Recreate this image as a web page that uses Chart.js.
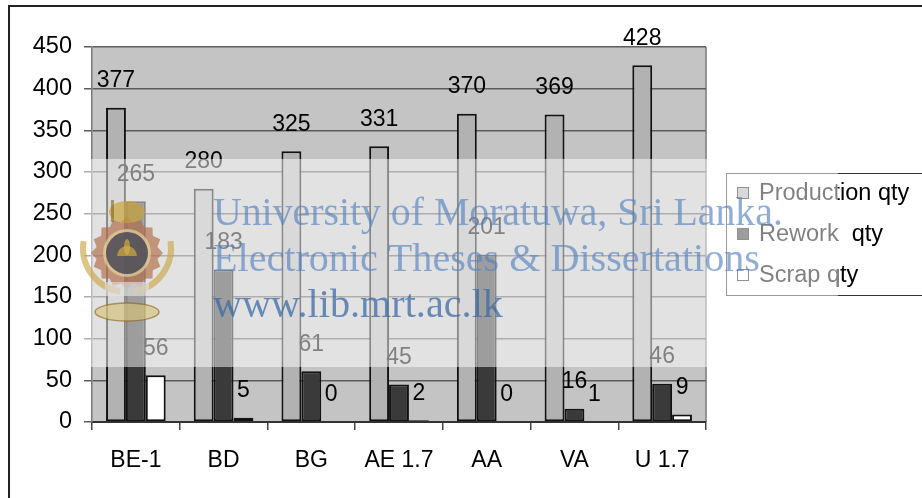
<!DOCTYPE html>
<html>
<head>
<meta charset="utf-8">
<script src="https://cdn.jsdelivr.net/npm/chart.js@4/dist/chart.umd.min.js"></script>
<style>
  html, body { margin: 0; padding: 0; background: #ffffff; }
  #wrap { width: 922px; height: 498px; }
</style>
</head>
<body>
<div id="wrap"><canvas id="c" width="922" height="498"></canvas></div>
<script>
// Quantities per product line
const categories   = ['BE-1', 'BD', 'BG', 'AE 1.7', 'AA', 'VA', 'U 1.7'];
const productionQty = [377, 280, 325, 331, 370, 369, 428];
const reworkQty     = [265, 183, 61, 45, 201, 16, 46];
const scrapQty      = [56, 5, 0, 2, 0, 1, 9];
const seriesNames   = ['Production qty', 'Rework  qty', 'Scrap qty'];
const yMin = 0, yMax = 450, yStep = 50;
const watermarkLines = ['University of Moratuwa, Sri Lanka.', 'Electronic Theses & Dissertations', 'www.lib.mrt.ac.lk'];

const FONT = '"Liberation Sans", Arial, sans-serif';

// Grey plot background, right edge line and outer frame
const backdrop = {
  id: 'backdrop',
  beforeDraw(chart) {
    const { ctx, chartArea: a } = chart;
    ctx.save();
    ctx.fillStyle = '#ffffff';
    ctx.fillRect(0, 0, chart.width, chart.height);
    ctx.strokeStyle = '#222';
    ctx.lineWidth = 2;
    ctx.strokeRect(9, 6, 940, 520);
    ctx.fillStyle = '#c4c4c4';
    ctx.fillRect(a.left, a.top, a.right - a.left, a.bottom - a.top);
    ctx.strokeStyle = '#7a7a7a';
    ctx.lineWidth = 1.5;
    ctx.beginPath();
    ctx.moveTo(a.right, a.top);
    ctx.lineTo(a.right, a.bottom);
    ctx.stroke();
    ctx.restore();
  }
};

// Value labels above each bar
const valueLabels = {
  id: 'valueLabels',
  afterDatasetsDraw(chart) {
    const { ctx } = chart;
    ctx.save();
    ctx.font = '23px ' + FONT;
    ctx.fillStyle = '#000';
    ctx.textAlign = 'center';
    ctx.textBaseline = 'middle';
    chart.data.datasets.forEach((ds, i) => {
      chart.getDatasetMeta(i).data.forEach((bar, j) => {
        ctx.fillText(String(ds.data[j]), bar.x, bar.y - 27);
      });
    });
    ctx.restore();
  }
};

// Boxed legend on the right
const sideLegend = {
  id: 'sideLegend',
  afterDraw(chart) {
    const { ctx } = chart;
    ctx.save();
    ctx.strokeStyle = '#333';
    ctx.lineWidth = 1;
    ctx.strokeRect(726.5, 173.5, 240, 122);
    ctx.font = '23.5px ' + FONT;
    ctx.textBaseline = 'middle';
    ctx.textAlign = 'left';
    chart.data.datasets.forEach((ds, i) => {
      const y = 193 + i * 41;
      ctx.fillStyle = ds.backgroundColor;
      ctx.fillRect(737, y - 6, 12, 12);
      ctx.strokeStyle = '#222';
      ctx.lineWidth = 1;
      ctx.strokeRect(737.5, y - 5.5, 11, 11);
      ctx.fillStyle = '#000';
      ctx.fillText(ds.label, 759, y + 1);
    });
    ctx.restore();
  }
};

// Library watermark: translucent band, emblem and text
const watermark = {
  id: 'watermark',
  afterDraw(chart) {
    const { ctx } = chart;
    ctx.save();
    ctx.fillStyle = 'rgba(255,255,255,0.5)';
    ctx.fillRect(80, 159, 758, 208);

    // emblem
    const cx = 127, cy = 253;
    ctx.globalAlpha = 0.65;
    ctx.strokeStyle = '#c9a646';
    ctx.lineWidth = 6;
    ctx.beginPath();
    ctx.arc(cx, cy - 5, 44, Math.PI * 0.55, Math.PI * 1.05);
    ctx.stroke();
    ctx.beginPath();
    ctx.arc(cx, cy - 5, 44, Math.PI * -0.05, Math.PI * 0.45);
    ctx.stroke();
    ctx.fillStyle = '#b06a45';
    ctx.beginPath();
    for (let k = 0; k < 32; k++) {
      const ang = k * Math.PI / 16;
      const r = k % 2 === 0 ? 36 : 31;
      const px = cx + r * Math.cos(ang), py = cy + r * Math.sin(ang);
      k === 0 ? ctx.moveTo(px, py) : ctx.lineTo(px, py);
    }
    ctx.closePath();
    ctx.fill();
    ctx.fillStyle = '#e8d9a0';
    ctx.beginPath(); ctx.arc(cx, cy, 24, 0, Math.PI * 2); ctx.fill();
    ctx.fillStyle = '#1c2440';
    ctx.beginPath(); ctx.arc(cx, cy, 21, 0, Math.PI * 2); ctx.fill();
    ctx.fillStyle = '#d8b040';
    ctx.beginPath(); ctx.arc(cx, cy + 3, 10, Math.PI, 0); ctx.fill();
    ctx.beginPath(); ctx.ellipse(cx, cy - 6, 3, 8, 0, 0, Math.PI * 2); ctx.fill();
    // crest
    ctx.fillStyle = '#c9a030';
    ctx.beginPath(); ctx.ellipse(cx, 212, 18, 11, 0, 0, Math.PI * 2); ctx.fill();
    ctx.fillStyle = '#8a6a20';
    ctx.fillRect(cx - 16, 200, 3, 22);
    // lower banner
    ctx.fillStyle = '#d9c27a';
    ctx.beginPath(); ctx.ellipse(cx, 312, 32, 9, 0, 0, Math.PI * 2); ctx.fill();
    ctx.strokeStyle = '#8a6a20';
    ctx.lineWidth = 1.5;
    ctx.stroke();
    ctx.fillStyle = '#e0e0e0';
    ctx.fillRect(cx - 22, 282, 44, 14);
    ctx.globalAlpha = 1;

    // text
    ctx.textAlign = 'left';
    ctx.textBaseline = 'alphabetic';
    const widths = [570, 547, 290];
    const baselines = [225, 271, 317];
    const colors = ['rgba(85,130,190,0.65)', 'rgba(85,130,190,0.65)', 'rgba(60,105,165,0.75)'];
    watermarkLines.forEach((t, i) => {
      ctx.font = '36px "Liberation Serif", "Times New Roman", serif';
      const w = ctx.measureText(t).width;
      const size = 36 * widths[i] / w;
      ctx.font = size.toFixed(2) + 'px "Liberation Serif", "Times New Roman", serif';
      ctx.fillStyle = colors[i];
      ctx.fillText(t, 213, baselines[i]);
    });
    ctx.restore();
  }
};

new Chart(document.getElementById('c'), {
  type: 'bar',
  data: {
    labels: categories,
    datasets: [
      { label: seriesNames[0], data: productionQty, backgroundColor: '#b2b2b2', borderColor: '#111', borderWidth: 2, borderSkipped: false },
      { label: seriesNames[1], data: reworkQty, backgroundColor: '#3a3a3a', borderColor: '#111', borderWidth: 2, borderSkipped: false },
      { label: seriesNames[2], data: scrapQty, backgroundColor: '#ffffff', borderColor: '#111', borderWidth: 2, borderSkipped: false }
    ]
  },
  options: {
    responsive: false,
    animation: false,
    devicePixelRatio: 1,
    layout: { padding: { left: 0, top: 47, right: 216, bottom: 0 } },
    datasets: { bar: { categoryPercentage: 0.68, barPercentage: 1.0 } },
    plugins: { legend: { display: false }, tooltip: { enabled: false } },
    scales: {
      x: {
        afterFit(s) { s.height = 76; },
        grid: { offset: true, drawOnChartArea: false, drawTicks: true, tickLength: 8, color: '#444', lineWidth: 1.5 },
        border: { display: true, color: '#333', width: 2 },
        ticks: { color: '#000', font: { family: FONT, size: 23 }, padding: 17, maxRotation: 0 }
      },
      y: {
        min: yMin, max: yMax,
        afterFit(s) { s.width = 92; },
        grid: { color: '#5c5c5c', lineWidth: 1.5, drawTicks: true, tickLength: 8, tickColor: '#5c5c5c' },
        border: { display: true, color: '#7a7a7a', width: 1.5 },
        ticks: { stepSize: yStep, color: '#000', font: { family: FONT, size: 23.5 }, padding: 12 }
      }
    }
  },
  plugins: [backdrop, valueLabels, sideLegend, watermark]
});
</script>
</body>
</html>
